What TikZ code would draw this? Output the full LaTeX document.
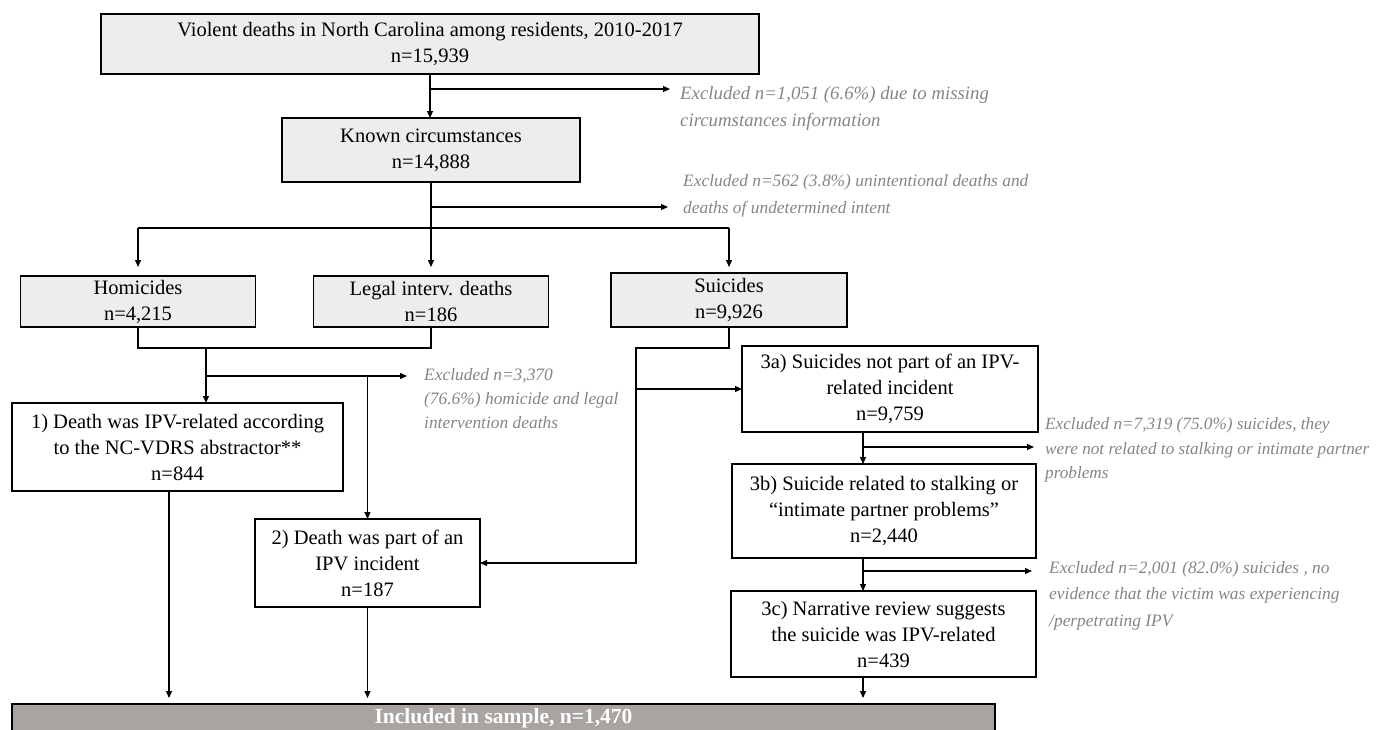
\documentclass[tikz,border=0pt]{standalone}
\usepackage{fontspec}
\setmainfont{Liberation Serif}
\usetikzlibrary{arrows.meta}
\definecolor{boxgray}{HTML}{EDEDED}
\definecolor{inclgray}{HTML}{A8A4A2}
\definecolor{exclgray}{HTML}{858585}
\begin{document}
\begin{tikzpicture}[x=1pt,y=-1pt,
  box/.style={draw=black,line width=1.3pt,align=center,inner sep=0pt,outer sep=0pt,
    font=\fontsize{20.5}{26}\selectfont},
  gbox/.style={box,fill=boxgray},
  excl/.style={anchor=north west,align=left,inner sep=0pt,text=exclgray,
    font=\fontsize{17.4}{#1}\selectfont\itshape},
  arr/.style={line width=1.2pt,-{Triangle[length=7pt,width=6pt]}},
  ln/.style={line width=1.2pt}]
\useasboundingbox (0,0) rectangle (1376,729);

% boxes
\node[gbox,minimum width=658,minimum height=60] (top) at (430,44)
  {Violent deaths in North Carolina among residents, 2010-2017\\n=15,939};
\node[gbox,minimum width=298,minimum height=64] (known) at (431,150)
  {Known circumstances\\n=14,888};
\node[gbox,minimum width=235,minimum height=51] (hom) at (138,301.5)
  {Homicides\\n=4,215};
\node[gbox,minimum width=235,minimum height=51] (legal) at (431,301.5)
  {Legal interv. deaths\\n=186};
\node[gbox,minimum width=236,minimum height=54] (sui) at (729,300)
  {Suicides\\n=9,926};
\node[box,minimum width=331,minimum height=88] (box1) at (177.5,447)
  {1) Death was IPV-related according\\to the NC-VDRS abstractor**\\n=844};
\node[box,minimum width=225,minimum height=88] (box2) at (367.5,563)
  {2) Death was part of an\\IPV incident\\n=187};
\node[box,minimum width=296,minimum height=86] (b3a) at (890,389)
  {3a) Suicides not part of an IPV-\\related incident\\n=9,759};
\node[box,minimum width=304,minimum height=94] (b3b) at (884,511)
  {3b) Suicide related to stalking or\\``intimate partner problems''\\n=2,440};
\node[box,minimum width=305,minimum height=86] (b3c) at (883.5,634)
  {3c) Narrative review suggests\\the suicide was IPV-related\\n=439};
\node[box,fill=inclgray,text=white,minimum width=983,minimum height=28,
  font=\fontsize{21.5}{26}\selectfont] (incl) at (503.5,718)
  {\bfseries Included in sample, n=1,470};

% exclusion notes
\node[excl=27,font=\fontsize{18.8}{27}\selectfont\itshape] (x1) at (680,80.5)
  {\strut Excluded n=1,051 (6.6\%) due to missing\\\strut circumstances information};
\node[excl=27] (x2) at (683,167.5)
  {\strut Excluded n=562 (3.8\%) unintentional deaths and\\\strut deaths of undetermined intent};
\node[excl=24] (x3) at (424,363.5)
  {\strut Excluded n=3,370\\\strut (76.6\%) homicide and legal\\\strut intervention deaths};
\node[excl=24.5,font=\fontsize{17.2}{24.5}\selectfont\itshape] (x4) at (1045,412.5)
  {\strut Excluded n=7,319 (75.0\%) suicides, they\\\strut were not related to stalking or intimate partner\\\strut problems};
\node[excl=26.5] (x5) at (1049,554.5)
  {\strut Excluded n=2,001 (82.0\%) suicides , no\\\strut evidence that the victim was experiencing\\\strut /perpetrating IPV};

% junction coordinates
\coordinate (e1) at (670,89);
\coordinate (e2) at (668,207);
\coordinate (dl) at (138,228);
\coordinate (dr) at (729,228);
\coordinate (mL) at (138,348);
\coordinate (mR) at (431,348);
\coordinate (m2) at (206,348);
\coordinate (b3) at (206,376);
\coordinate (e3) at (407,376);
\coordinate (b4) at (367.5,376);
\coordinate (s1) at (729,348);
\coordinate (s2) at (636,348);
\coordinate (s3) at (636,563);
\coordinate (s4) at (636,389);
\coordinate (c3) at (863,0);
\coordinate (e4) at (1034,447);
\coordinate (e5) at (1032,571);
\coordinate (c1) at (169,0);

% connectors
\draw[arr] (top.south) -- (top.south |- known.north);
\draw[arr] (top.south |- e1) -- (e1);
\draw[arr] (known.south) -- ([yshift=9pt]known.south |- legal.north);
\draw[arr] (known.south |- e2) -- (e2);
\draw[ln] (dl) -- (dr);
\draw[arr] (dl) -- ([yshift=9pt]hom.north);
\draw[arr] (dr) -- ([yshift=6pt]sui.north);
\draw[ln] (hom.south) -- (mL) -- (mR) -- (legal.south);
\draw[arr] (m2) -- (m2 |- box1.north);
\draw[arr] (b3) -- (e3);
\draw[arr] (b4) -- (box2.north);
\draw[arr] (sui.south) -- (s1) -- (s2) -- (s3) -- (box2.east);
\draw[arr] (s4) -- (b3a.west);
\draw[arr] (b3a.south -| c3) -- (b3b.north -| c3);
\draw[arr] (c3 |- e4) -- (e4);
\draw[arr] (b3b.south -| c3) -- (b3c.north -| c3);
\draw[arr] (c3 |- e5) -- (e5);
\draw[arr] (b3c.south -| c3) -- ([yshift=6pt]incl.north -| c3);
\draw[arr] (box1.south -| c1) -- ([yshift=6pt]incl.north -| c1);
\draw[arr] (box2.south) -- ([yshift=6pt]incl.north -| box2.south);
\end{tikzpicture}
\end{document}
